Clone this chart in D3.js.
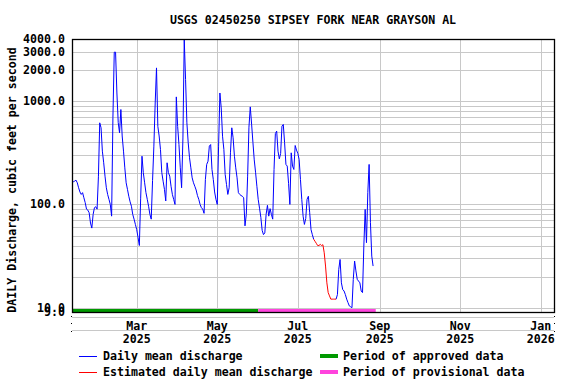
<!DOCTYPE html>
<html>
<head>
<meta charset="utf-8">
<script src="https://cdn.jsdelivr.net/npm/d3@7"></script>
<style>
  body { margin: 0; background: #fff; }
  text { font-family: "DejaVu Sans Mono", monospace; font-weight: bold; font-size: 11.6px; fill: #000; }
</style>
</head>
<body>
<svg id="chart" width="576" height="384"></svg>
<script>
// données (débit journalier moyen, pi3/s)
var titre = "USGS 02450250 SIPSEY FORK NEAR GRAYSON AL";
var startDate = "2025-01-11";
var flow = [
  168, 166, 168, 172, 162, 145, 132, 125, 130, 116,
  104, 90, 88, 83, 66, 59, 80, 93, 95, 90,
  185, 617, 552, 328, 253, 188, 145, 125, 112, 100,
  77, 700, 2980, 2980, 1200, 620, 494, 830, 460, 328,
  226, 162, 140, 120, 106, 96, 80, 72, 64, 57,
  48, 40, 115, 293, 203, 162, 130, 112, 96, 80,
  72, 170, 367, 960, 2100, 570, 460, 340, 203, 168,
  140, 108, 253, 203, 188, 150, 125, 112, 100, 1100,
  570, 380, 226, 145, 440, 3950, 1620, 617, 395, 283,
  226, 181, 162, 150, 138, 122, 112, 100, 93, 90,
  82, 174, 244, 262, 367, 380, 218, 174, 132, 112,
  100, 367, 1200, 860, 458, 341, 195, 156, 125, 145,
  316, 552, 442, 293, 226, 181, 130, 125, 122, 120,
  116, 62, 80, 188, 560, 880, 600, 400, 270, 205,
  150, 112, 92, 75, 56, 51, 53, 80, 98, 77,
  91, 80, 72, 218, 486, 513, 328, 276, 312, 573,
  595, 395, 244, 235, 160, 100, 316, 235, 218, 372,
  336, 312, 273, 174, 112, 77, 64, 73, 112, 120,
  83, 57, 51, 46, 44, 42, 40, 40, 41, 40,
  40.7, 34, 25.3, 17.4, 14, 13, 12.1, 12.1, 12.1, 12.1,
  12.1, 13.4, 23.5, 29.3, 17.4, 15, 14.5, 13.4, 12.1, 11.2,
  10.4, 10.2, 10, 18.8, 28.3, 22.7, 18.8, 18.1, 17.4, 14.5,
  14, 39.5, 89.5, 42.6, 130, 244, 66.5, 31.6, 25.3
];
var estimatedPeriod = ["2025-07-13", "2025-07-30"];
var approvedPeriod = ["2025-01-11", "2025-06-01"];
var provisionalPeriod = ["2025-06-01", "2025-08-29"];
var yTicks = [9, 10, 100, 1000, 2000, 3000, 4000];
var yGrid = [10, 20, 30, 40, 50, 60, 70, 80, 90, 100, 200, 300, 400, 500, 600, 700, 800, 900, 1000, 2000, 3000];
var xTicks = ["2025-03-01", "2025-05-01", "2025-07-01", "2025-09-01", "2025-11-01", "2026-01-01"];
var legendLines = [
  {label: "Daily mean discharge", color: "#0000ff"},
  {label: "Estimated daily mean discharge", color: "#ff0000"}
];
var legendBars = [
  {label: "Period of approved data", color: "#009900"},
  {label: "Period of provisional data", color: "#ff44dd"}
];

var parse = d3.timeParse("%Y-%m-%d");
var svg = d3.select("#chart");
var margin = {top: 39, right: 22, bottom: 72, left: 72};
var width = 576 - margin.right, height = 384 - margin.bottom;

var t0 = parse(startDate);
var datas = flow.map(function(v, i) { return {date: d3.timeDay.offset(t0, i), value: v}; });
var estA = parse(estimatedPeriod[0]), estB = parse(estimatedPeriod[1]);

var xScale = d3.scaleTime().domain([t0, d3.timeYear.offset(t0, 1)]).range([margin.left, width]);
var yScale = d3.scaleLog().domain([9, 4000]).range([312.4, margin.top]);

// grille
svg.append("g").selectAll("line").data(yGrid).enter().append("line")
  .attr("x1", margin.left).attr("x2", width)
  .attr("y1", d => Math.round(yScale(d)) + 0.5).attr("y2", d => Math.round(yScale(d)) + 0.5)
  .attr("stroke", "#c8c8c8");
svg.append("g").selectAll("line").data(xTicks).enter().append("line")
  .attr("x1", d => Math.round(xScale(parse(d))) + 0.5).attr("x2", d => Math.round(xScale(parse(d))) + 0.5)
  .attr("y1", margin.top).attr("y2", height)
  .attr("stroke", "#c8c8c8");

// lignes sous l'axe
[317.5, 330.5].forEach(function(y) {
  svg.append("line").attr("x1", margin.left).attr("x2", width).attr("y1", y).attr("y2", y).attr("stroke", "#c8c8c8");
});
[316, 323, 331].forEach(function(y) {
  svg.append("rect").attr("x", margin.left - 1).attr("y", y).attr("width", 1).attr("height", 1).attr("fill", "#000");
  svg.append("rect").attr("x", width).attr("y", y).attr("width", 1).attr("height", 1).attr("fill", "#000");
});

// barres d'approbation
[[approvedPeriod, legendBars[0].color], [provisionalPeriod, legendBars[1].color]].forEach(function(p) {
  svg.append("rect")
    .attr("x", xScale(parse(p[0][0]))).attr("width", xScale(parse(p[0][1])) - xScale(parse(p[0][0])))
    .attr("y", 309).attr("height", 3)
    .attr("fill", p[1]);
});

// courbes
var isEst = d => d.date >= estA && d.date <= estB;
var line = d3.line().x(d => xScale(d.date)).y(d => yScale(d.value));
svg.append("path").datum(datas)
  .attr("d", line.defined(d => !(d.date > estA && d.date < estB)))
  .attr("fill", "none").attr("stroke", legendLines[0].color).attr("stroke-width", 1);
svg.append("path").datum(datas)
  .attr("d", d3.line().x(d => xScale(d.date)).y(d => yScale(d.value)).defined(isEst))
  .attr("fill", "none").attr("stroke", legendLines[1].color).attr("stroke-width", 1);

// cadre
svg.append("rect")
  .attr("x", margin.left + 0.5).attr("y", margin.top + 0.5)
  .attr("width", width - margin.left).attr("height", height - margin.top)
  .attr("fill", "none").attr("stroke", "#000").attr("stroke-width", 1.3);

// axe y
svg.append("g").selectAll("text").data(yTicks).enter().append("text")
  .attr("x", 65).attr("y", d => yScale(d) + 4)
  .style("text-anchor", "end")
  .text(d => d3.format(".1f")(d));

// axe x
var fmtM = d3.timeFormat("%b"), fmtY = d3.timeFormat("%Y");
var xl = svg.append("g").selectAll("g").data(xTicks).enter().append("g")
  .attr("transform", d => `translate(${xScale(parse(d))},0)`);
xl.append("text").attr("y", 330).style("text-anchor", "middle").text(d => fmtM(parse(d)));
xl.append("text").attr("y", 343).style("text-anchor", "middle").text(d => fmtY(parse(d)));

// titres
svg.append("text").attr("x", (margin.left + width) / 2).attr("y", 24)
  .style("text-anchor", "middle").text(titre);
svg.append("text")
  .attr("transform", "translate(16,180) rotate(-90)")
  .style("text-anchor", "middle")
  .text("DAILY Discharge, cubic feet per second");

// légende
legendLines.forEach(function(d, i) {
  var y = 356 + i * 16;
  svg.append("line").attr("x1", 79).attr("x2", 97).attr("y1", y + 0.5).attr("y2", y + 0.5).attr("stroke", d.color);
  svg.append("text").attr("x", 103).attr("y", y + 4).text(d.label);
});
legendBars.forEach(function(d, i) {
  var y = 356 + i * 16;
  svg.append("rect").attr("x", 320).attr("y", y - 2).attr("width", 18).attr("height", 4).attr("fill", d.color);
  svg.append("text").attr("x", 343).attr("y", y + 4).text(d.label);
});
</script>
</body>
</html>
